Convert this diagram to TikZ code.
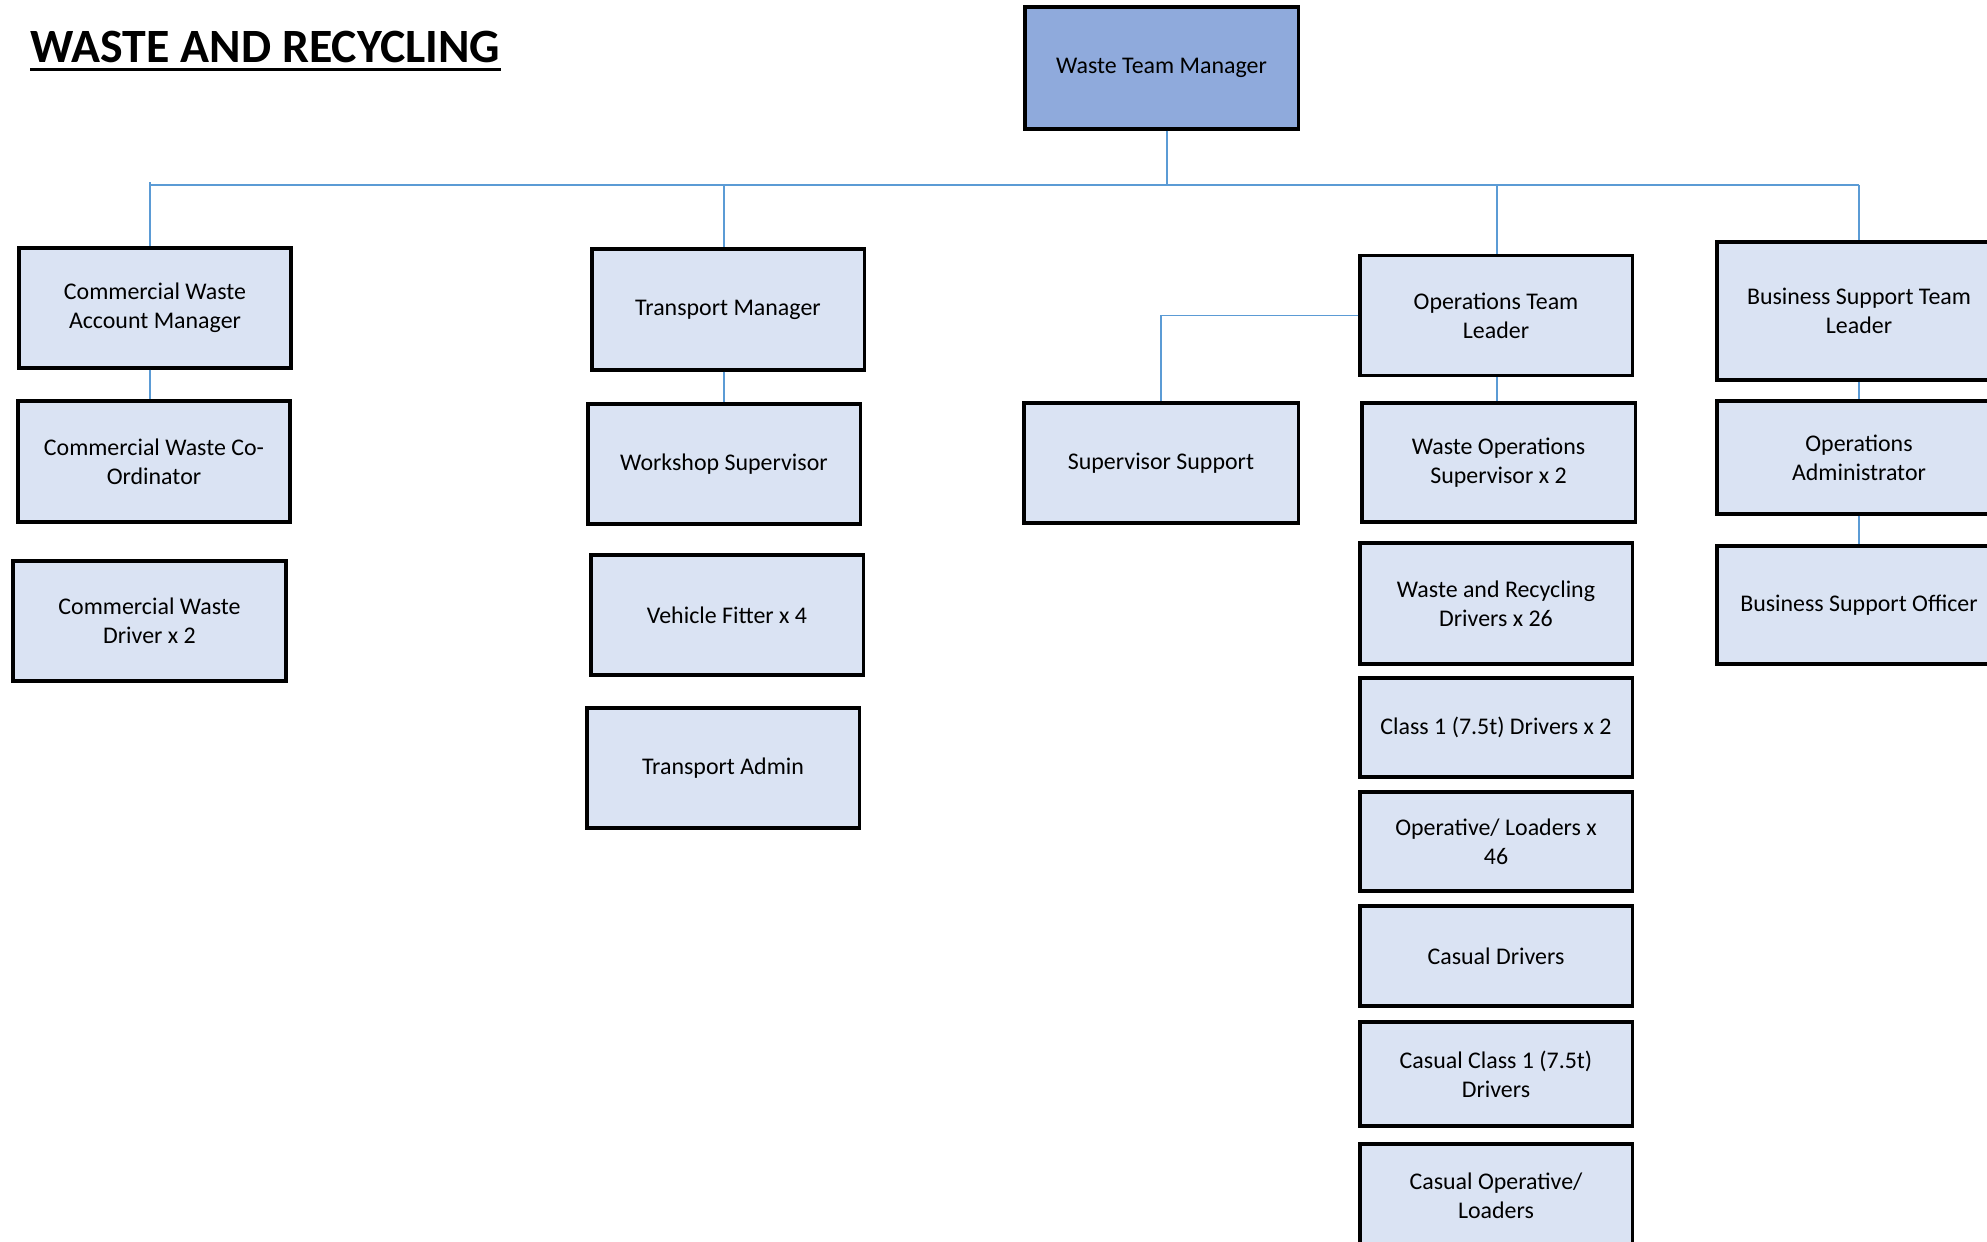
\documentclass[tikz,border=0pt]{standalone}
\usepackage{fontspec}
\setmainfont{Carlito}
\definecolor{boxfill}{HTML}{DAE3F3}
\definecolor{topfill}{HTML}{8FAADC}
\definecolor{linkblue}{HTML}{5B9BD5}
\begin{document}
\begin{tikzpicture}[x=0.01cm,y=-0.01cm,
  orgbox/.style={draw=black,line width=0.9pt,fill=boxfill,align=center,inner sep=0pt,
    font=\fontsize{6.8pt}{8.3pt}\selectfont},
  link/.style={draw=linkblue,line width=0.4pt}]
\useasboundingbox (0,0) rectangle (1987,1241);
\fill[white] (0,0) rectangle (1987,1241);
\clip (0,0) rectangle (1987,1241);

% title
\node[anchor=base west,inner sep=0pt,font=\fontsize{13.6pt}{16pt}\selectfont\bfseries] (title) at (30,62) {WASTE AND RECYCLING};
\draw[line width=0.85pt] ([yshift=-2pt]title.base west) -- ([yshift=-2pt]title.base east);

% boxes
\node[orgbox,fill=topfill,minimum width=2.73cm,minimum height=1.22cm] (WTM) at (1161.5,68) {Waste Team Manager};

\node[orgbox,minimum width=2.72cm,minimum height=1.20cm] (CWAM) at (155,308) {Commercial Waste\\Account Manager};
\node[orgbox,minimum width=2.72cm,minimum height=1.21cm] (CWCO) at (154,461.5) {Commercial Waste Co-\\Ordinator};
\node[orgbox,minimum width=2.73cm,minimum height=1.20cm] (CWD) at (149.5,621) {Commercial Waste\\Driver x 2};

\node[orgbox,minimum width=2.72cm,minimum height=1.21cm] (TM) at (728,309.5) {Transport Manager};
\node[orgbox,minimum width=2.72cm,minimum height=1.20cm] (WS) at (724,464) {Workshop Supervisor};
\node[orgbox,minimum width=2.72cm,minimum height=1.20cm] (VF) at (727,615) {Vehicle Fitter x 4};
\node[orgbox,minimum width=2.72cm,minimum height=1.20cm] (TA) at (723,768) {Transport Admin};

\node[orgbox,minimum width=2.74cm,minimum height=1.20cm] (SS) at (1161,463) {Supervisor Support};

\node[orgbox,minimum width=2.72cm,minimum height=1.20cm] (OTL) at (1496,315.5) {Operations Team\\Leader};
\node[orgbox,minimum width=2.73cm,minimum height=1.19cm] (WOS) at (1498.5,462.5) {Waste Operations\\Supervisor x 2};
\node[orgbox,minimum width=2.72cm,minimum height=1.21cm] (WRD) at (1496,603.5) {Waste and Recycling\\Drivers x 26};
\node[orgbox,minimum width=2.72cm,minimum height=0.99cm] (C1D) at (1496,727.5) {Class 1 (7.5t) Drivers x 2};
\node[orgbox,minimum width=2.72cm,minimum height=0.99cm] (OL) at (1496,841.5) {Operative/ Loaders x\\46};
\node[orgbox,minimum width=2.72cm,minimum height=1.00cm] (CD) at (1496,956) {Casual Drivers};
\node[orgbox,minimum width=2.72cm,minimum height=1.04cm] (CC1) at (1496,1074) {Casual Class 1 (7.5t)\\Drivers};
\node[orgbox,minimum width=2.72cm,minimum height=1.04cm] (COL) at (1496,1196) {Casual Operative/\\Loaders};

\node[orgbox,minimum width=2.84cm,minimum height=1.38cm] (BSTL) at (1859,311) {Business Support Team\\Leader};
\node[orgbox,minimum width=2.84cm,minimum height=1.13cm] (OA) at (1859,457.5) {Operations\\Administrator};
\node[orgbox,minimum width=2.84cm,minimum height=1.18cm] (BSO) at (1859,605) {Business Support Officer};

% bus coordinates
\coordinate (top) at (1167,185);
\coordinate (b1) at (150,185);
\coordinate (b2) at (724,185);
\coordinate (b4) at (1497,185);
\coordinate (b5) at (1859,185);
\coordinate (ssx) at (1161,185);

\draw[link] (top |- WTM.south) -- (top);
\draw[link] (b1) -- (b5);
\draw[link] ([yshift=0.03cm]b1) -- (b1 |- CWAM.north);
\draw[link] (b2) -- (b2 |- TM.north);
\draw[link] (b4) -- (b4 |- OTL.north);
\draw[link] (b5) -- (b5 |- BSTL.north);
\draw[link] (b1 |- CWAM.south) -- (b1 |- CWCO.north);
\draw[link] (b2 |- TM.south) -- (b2 |- WS.north);
\draw[link] (b4 |- OTL.south) -- (b4 |- WOS.north);
\draw[link] (OTL.west) -- (ssx |- OTL.west) -- (SS.north);
\draw[link] (b5 |- BSTL.south) -- (b5 |- OA.north);
\draw[link] (b5 |- OA.south) -- (b5 |- BSO.north);
\end{tikzpicture}
\end{document}
